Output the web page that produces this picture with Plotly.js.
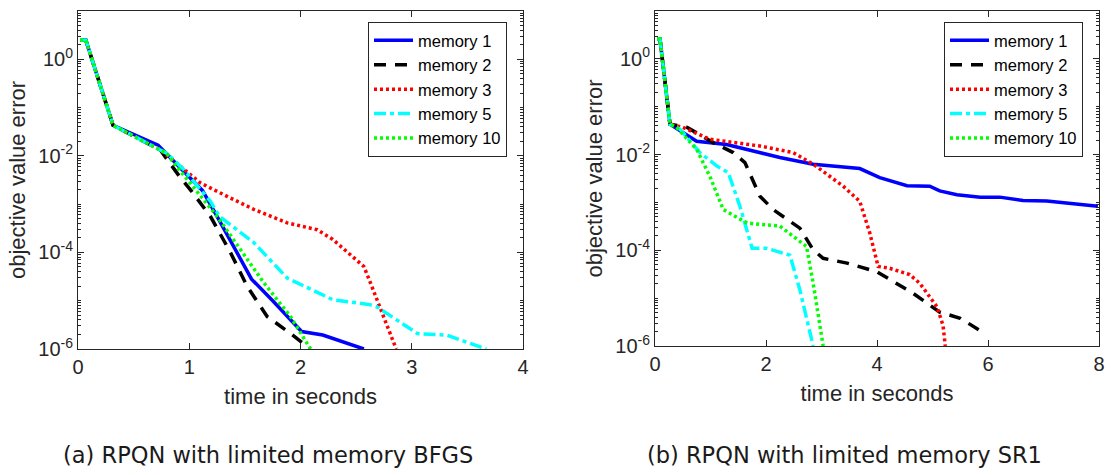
<!DOCTYPE html>
<html>
<head>
<meta charset="utf-8">
<script src="https://cdn.plot.ly/plotly-3.0.1.min.js"></script>
<style>
  html, body { margin: 0; padding: 0; background: #ffffff; }
  #chart { width: 1111px; height: 475px; }
</style>
</head>
<body>
<div id="chart"></div>
<script>
// ---------- Data: (a) RPQN with limited memory BFGS ----------
const seriesNames = ['memory 1', 'memory 2', 'memory 3', 'memory 5', 'memory 10'];

const bfgsM1Time = [0.02, 0.07, 0.315, 0.72, 0.89, 1.12, 1.25, 1.56, 1.75, 2.01, 2.2, 2.57];
const bfgsM1Err  = [2.5, 2.5, 0.043, 0.0166, 0.0066, 0.0019, 5.6e-4, 2.8e-5, 1.0e-5, 2.3e-6, 1.95e-6, 1.0e-6];

const bfgsM2Time = [0.02, 0.07, 0.315, 0.74, 0.92, 1.02, 1.19, 1.37, 1.52, 1.70, 1.91, 2.09];
const bfgsM2Err  = [2.5, 2.5, 0.043, 0.0132, 0.00355, 0.00186, 5.6e-4, 1.0e-4, 2.0e-5, 4.7e-6, 2.1e-6, 1.0e-6];

const bfgsM3Time = [0.02, 0.07, 0.315, 0.74, 0.99, 1.1, 1.34, 1.58, 1.88, 2.15, 2.29, 2.57, 2.63, 2.70, 2.76, 2.86];
const bfgsM3Err  = [2.5, 2.5, 0.043, 0.0132, 0.00447, 0.00275, 0.00145, 7.8e-4, 4.1e-4, 2.95e-4, 1.86e-4, 5.1e-5, 2.3e-5, 8.9e-6, 4.1e-6, 1.0e-6];

const bfgsM5Time = [0.02, 0.07, 0.315, 0.8, 0.95, 1.19, 1.27, 1.58, 1.88, 2.29, 2.62, 2.68, 3.05, 3.10, 3.31, 3.67];
const bfgsM5Err  = [2.5, 2.5, 0.043, 0.0112, 0.0052, 0.00115, 5.6e-4, 1.6e-4, 2.95e-5, 1.05e-5, 8.3e-6, 7.6e-6, 2.1e-6, 2.05e-6, 1.95e-6, 1.0e-6];

const bfgsM10Time = [0.02, 0.07, 0.315, 0.8, 0.86, 1.10, 1.25, 1.46, 1.67, 1.91, 2.09];
const bfgsM10Err  = [2.5, 2.5, 0.043, 0.0112, 0.0072, 0.00145, 5.6e-4, 1.15e-4, 2.35e-5, 4.7e-6, 1.0e-6];

// ---------- Data: (b) RPQN with limited memory SR1 ----------
const sr1M1Time = [0.04, 0.09, 0.27, 0.75, 1.29, 1.89, 2.25, 2.85, 3.69, 4.05, 4.54, 4.95, 5.13, 5.44, 5.86, 6.21, 6.63, 7.06, 7.98];
const sr1M1Err  = [2.6, 2.6, 0.043, 0.019, 0.0162, 0.0107, 0.0087, 0.0063, 0.0051, 0.0033, 0.00224, 0.00219, 0.00174, 0.00145, 0.00129, 0.00129, 0.0011, 0.00107, 8.3e-4];

const sr1M2Time = [0.04, 0.09, 0.27, 0.58, 1.05, 1.41, 1.62, 1.89, 2.13, 2.61, 2.85, 3.03, 3.46, 4.0, 4.65, 5.13, 5.5, 5.95];
const sr1M2Err  = [2.6, 2.6, 0.043, 0.037, 0.0178, 0.011, 0.0068, 0.00135, 7.1e-4, 2.9e-4, 1.02e-4, 6.8e-5, 5.4e-5, 3.55e-5, 1.26e-5, 5.1e-6, 3.8e-6, 1.8e-6];

const sr1M3Time = [0.04, 0.09, 0.27, 0.5, 0.99, 1.89, 2.49, 2.85, 3.39, 3.69, 3.87, 4.02, 4.23, 4.59, 4.77, 5.08, 5.19, 5.23];
const sr1M3Err  = [2.6, 2.6, 0.043, 0.037, 0.0209, 0.0151, 0.011, 0.0063, 0.00219, 0.00105, 2.3e-4, 4.6e-5, 4.2e-5, 3.1e-5, 2.05e-5, 6.6e-6, 2.7e-6, 1.0e-6];

const sr1M5Time = [0.04, 0.09, 0.27, 0.45, 0.81, 1.11, 1.32, 1.53, 1.75, 2.01, 2.43, 2.61, 2.85];
const sr1M5Err  = [2.6, 2.6, 0.043, 0.034, 0.011, 0.0058, 0.0042, 8.3e-4, 1.1e-4, 1.1e-4, 7.9e-5, 1.5e-5, 1.0e-6];

const sr1M10Time = [0.04, 0.09, 0.27, 0.39, 0.75, 0.99, 1.23, 1.53, 1.66, 2.25, 2.73, 2.85, 3.03];
const sr1M10Err  = [2.6, 2.6, 0.043, 0.037, 0.0129, 0.00347, 7.1e-4, 4.4e-4, 3.7e-4, 3.2e-4, 1.2e-4, 2.05e-5, 1.0e-6];

// ---------- Tick labels ----------
const leftXTicks  = [0, 1, 2, 3, 4];
const rightXTicks = [0, 2, 4, 6, 8];
const yTickVals   = [1e-6, 1e-4, 1e-2, 1];
const yTickText   = ['10<sup>-6</sup>', '10<sup>-4</sup>', '10<sup>-2</sup>', '10<sup>0</sup>'];
const captionA = '(a) RPQN with limited memory BFGS';
const captionB = '(b) RPQN with limited memory SR1';

// ---------- Styles ----------
const styles = [
  { color: '#0000ff', dash: 'solid' },
  { color: '#000000', dash: '12px,9px' },
  { color: '#ff0000', dash: '3px,3px' },
  { color: '#00ffff', dash: '12px,4px,4px,4px' },
  { color: '#00ff00', dash: '3px,3px' }
];
const LW = 3.5;

const leftData = [
  [bfgsM1Time, bfgsM1Err], [bfgsM2Time, bfgsM2Err], [bfgsM3Time, bfgsM3Err],
  [bfgsM5Time, bfgsM5Err], [bfgsM10Time, bfgsM10Err]
];
const rightData = [
  [sr1M1Time, sr1M1Err], [sr1M2Time, sr1M2Err], [sr1M3Time, sr1M3Err],
  [sr1M5Time, sr1M5Err], [sr1M10Time, sr1M10Err]
];

const traces = [];
leftData.forEach((d, i) => {
  traces.push({
    x: d[0], y: d[1], type: 'scatter', mode: 'lines', name: seriesNames[i],
    xaxis: 'x', yaxis: 'y', legend: 'legend',
    line: { color: styles[i].color, dash: styles[i].dash, width: LW }
  });
});
rightData.forEach((d, i) => {
  traces.push({
    x: d[0], y: d[1], type: 'scatter', mode: 'lines', name: seriesNames[i],
    xaxis: 'x2', yaxis: 'y2', legend: 'legend2',
    line: { color: styles[i].color, dash: styles[i].dash, width: LW }
  });
});

// minor tick positions for log axes
const minorVals = [];
for (let d = -6; d <= 0; d++) {
  for (let k = 1; k <= 9; k++) {
    const v = k * Math.pow(10, d);
    if (k === 1 && d % 2 === 0) continue;
    minorVals.push(v);
  }
}
minorVals.push(10);

const AX = '#262626';
const FONT = 'Liberation Sans, Arial, Helvetica, sans-serif';
const W = 1111, H = 475;

function xAxis(px0, px1, range, ticks) {
  return {
    domain: [px0 / W, px1 / W], range: range, tickmode: 'array', tickvals: ticks,
    ticks: 'inside', ticklen: 6, tickwidth: 1, tickcolor: AX,
    showline: true, linecolor: AX, linewidth: 1, mirror: 'ticks',
    showgrid: false, zeroline: false, automargin: false,
    tickfont: { family: FONT, size: 20, color: AX },
    title: { text: 'time in seconds', font: { family: FONT, size: 22, color: AX }, standoff: 11 }
  };
}
function yAxis(pyTop, pyBot, anchor) {
  return {
    domain: [(H - pyBot) / H, (H - pyTop) / H], type: 'log', range: [-6, 1],
    tickmode: 'array', tickvals: yTickVals, ticktext: yTickText,
    ticks: 'inside', ticklen: 6, tickwidth: 1, tickcolor: AX,
    minor: { ticks: 'inside', ticklen: 3, tickwidth: 1, tickcolor: AX, tickmode: 'array', tickvals: minorVals, showgrid: false },
    showline: true, linecolor: AX, linewidth: 1, mirror: 'ticks',
    showgrid: false, zeroline: false, automargin: false, anchor: anchor,
    tickfont: { family: FONT, size: 20, color: AX },
    title: { text: 'objective value error', font: { family: FONT, size: 22, color: AX }, standoff: 6 }
  };
}

const legendBase = {
  bgcolor: '#ffffff', bordercolor: AX, borderwidth: 1,
  font: { family: FONT, size: 16.5, color: '#000000' },
  xanchor: 'left', yanchor: 'top', itemwidth: 39, tracegroupgap: 0
};

const layout = {
  width: W, height: H,
  margin: { l: 0, r: 0, t: 0, b: 0 },
  paper_bgcolor: '#ffffff', plot_bgcolor: '#ffffff',
  showlegend: true,
  xaxis: Object.assign(xAxis(78, 523, [0, 4], leftXTicks), { anchor: 'y' }),
  yaxis: yAxis(11, 349, 'x'),
  xaxis2: Object.assign(xAxis(655, 1099, [0, 8], rightXTicks), { anchor: 'y2' }),
  yaxis2: yAxis(11, 346, 'x2'),
  legend: Object.assign({}, legendBase, { x: 368 / W, y: (H - 22) / H }),
  legend2: Object.assign({}, legendBase, { x: 944 / W, y: (H - 22) / H }),
  annotations: [
    { text: captionA, xref: 'paper', yref: 'paper', x: 268 / W, y: (H - 455) / H,
      xanchor: 'center', yanchor: 'middle', showarrow: false,
      font: { family: 'DejaVu Sans, sans-serif', size: 22.5, color: '#1a1a1a' } },
    { text: captionB, xref: 'paper', yref: 'paper', x: 844 / W, y: (H - 455) / H,
      xanchor: 'center', yanchor: 'middle', showarrow: false,
      font: { family: 'DejaVu Sans, sans-serif', size: 22.5, color: '#1a1a1a' } }
  ]
};

Plotly.newPlot('chart', traces, layout, { displayModeBar: false, staticPlot: true });
</script>
</body>
</html>
